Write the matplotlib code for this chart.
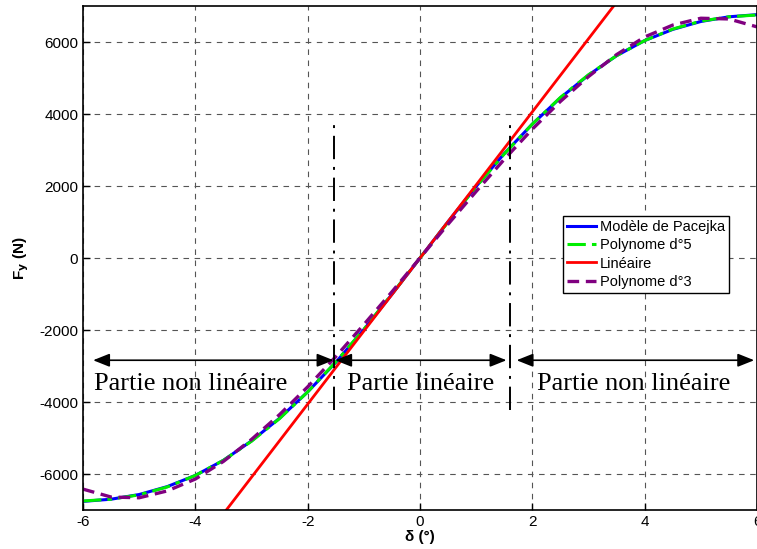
import matplotlib
matplotlib.use("Agg")
import matplotlib.pyplot as plt

# slip angle (deg)
delta = [-6.0, -5.5, -5.0, -4.5, -4.0, -3.5, -3.0, -2.5, -2.0, -1.5, -1.0, -0.5,
         0.0, 0.5, 1.0, 1.5, 2.0, 2.5, 3.0, 3.5, 4.0, 4.5, 5.0, 5.5, 6.0]

# lateral force (N)
fy_pacejka = [-6760, -6700, -6570, -6350, -6040, -5620, -5080, -4450, -3720, -2900, -1990, -1010,
              0, 1010, 1990, 2900, 3720, 4450, 5080, 5620, 6040, 6350, 6570, 6700, 6760]
fy_poly5 = [-6750, -6700, -6580, -6360, -6040, -5620, -5090, -4460, -3720, -2890, -1980, -1000,
            0, 1000, 1980, 2890, 3720, 4460, 5090, 5620, 6040, 6360, 6580, 6700, 6750]
fy_poly3 = [-6420, -6640, -6660, -6470, -6140, -5650, -5040, -4350, -3580, -2740, -1850, -940,
            0, 940, 1850, 2740, 3580, 4350, 5040, 5650, 6140, 6470, 6660, 6640, 6420]
lin_x = [-6.0, 6.0]
lin_y = [-12180, 12180]

# limits of the linear zone
zone_left = -1.54
zone_right = 1.60
zone_y = [-4230, 3730]
arrow_y = -2840

xticks = [-6, -4, -2, 0, 2, 4, 6]
yticks = [-6000, -4000, -2000, 0, 2000, 4000, 6000]

plt.rcParams["font.family"] = ["Liberation Sans", "DejaVu Sans"]
plt.rcParams["axes.unicode_minus"] = False

fig = plt.figure(figsize=(7.57, 5.49), dpi=100)
ax = fig.add_axes([83 / 757, 39 / 549, 674 / 757, 504 / 549])

ax.grid(True, color="#555555", linestyle=(0, (5, 5)), linewidth=0.8)
ax.set_axisbelow(True)

ax.plot(delta, fy_pacejka, color="#0000ff", linewidth=2.2, label="Modèle de Pacejka")
ax.plot(delta, fy_poly5, color="#00ee00", linewidth=2.2, linestyle=(0, (6, 2, 1.5, 2)),
        label="Polynome d°5")
ax.plot(lin_x, lin_y, color="#ff0000", linewidth=2, label="Linéaire")
ax.plot(delta, fy_poly3, color="#800080", linewidth=2.4, linestyle=(0, (3.5, 2)),
        label="Polynome d°3")

for xz in (zone_left, zone_right):
    ax.plot([xz, xz], zone_y, color="black", linewidth=1.4,
            linestyle=(0, (12, 4, 1.5, 4)))

arrow_kw = dict(arrowstyle="<|-|>,head_length=1.0,head_width=0.4", color="black",
                linewidth=1.2, shrinkA=0, shrinkB=0)
ax.annotate("", xy=(-5.82, arrow_y), xytext=(zone_left, arrow_y), arrowprops=arrow_kw)
ax.annotate("", xy=(zone_left + 0.03, arrow_y), xytext=(1.54, arrow_y), arrowprops=arrow_kw)
ax.annotate("", xy=(1.72, arrow_y), xytext=(5.95, arrow_y), arrowprops=arrow_kw)

serif = dict(family=["Liberation Serif", "DejaVu Serif"], fontsize=19,
             ha="center", va="center")
ax.text(-4.09, -3500, "Partie non linéaire", **serif)
ax.text(0.02, -3500, "Partie linéaire", **serif)
ax.text(3.8, -3500, "Partie non linéaire", **serif)

ax.set_xlim(-6, 6)
ax.set_ylim(-7000, 7000)
ax.set_xticks(xticks)
ax.set_yticks(yticks)
ax.tick_params(direction="in", labelsize=11, length=5, width=1)
ax.set_xlabel("δ (°)", fontsize=11, fontweight="bold", labelpad=1)
ax.set_ylabel("F$_\\mathbf{y}$ (N)", fontsize=11, fontweight="bold", labelpad=6)
for s in ax.spines.values():
    s.set_linewidth(1.2)

leg = ax.legend(loc="upper left", bbox_to_anchor=(0.712, 0.583), fontsize=10.5,
                frameon=True, fancybox=False, edgecolor="black", framealpha=1,
                handlelength=2.0, borderpad=0.25, labelspacing=0.3,
                handletextpad=0.3, borderaxespad=0)
leg.get_frame().set_linewidth(1)

fig.savefig("out.png", dpi=100)
